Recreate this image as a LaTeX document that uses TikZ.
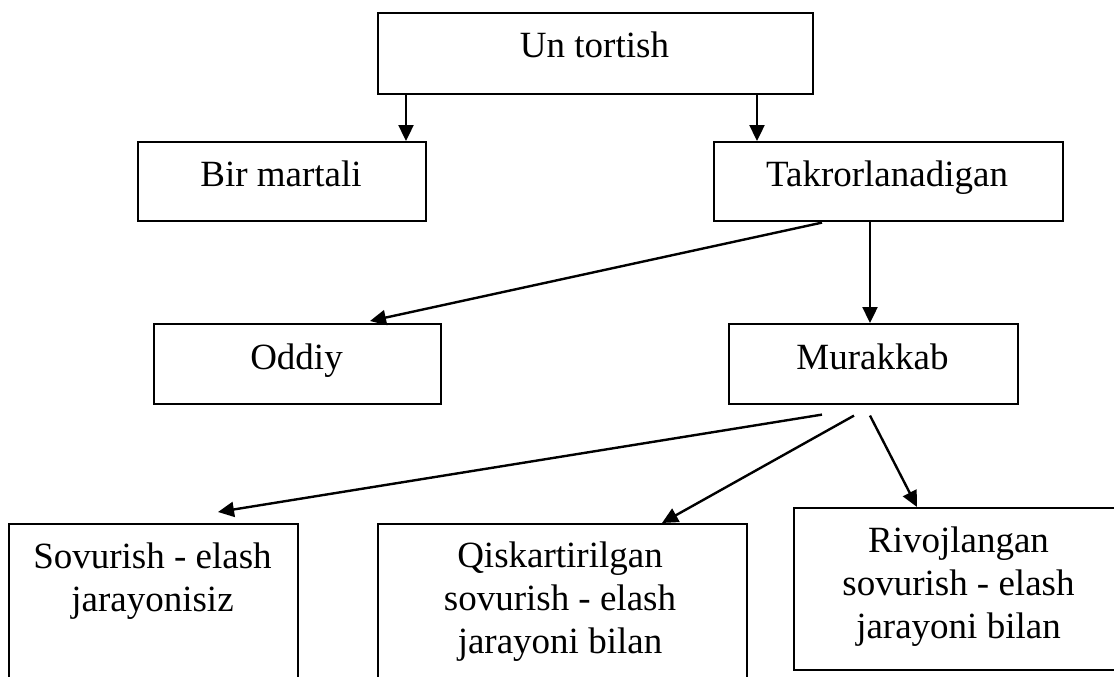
\documentclass[tikz,border=0pt]{standalone}
\usepackage{fontspec}
\setmainfont{Liberation Serif}
\usetikzlibrary{arrows.meta,calc}
\begin{document}
\begin{tikzpicture}[x=1pt,y=-1pt,
  box/.style={draw,line width=1.6pt,inner sep=0pt,anchor=north west},
  lbl/.style={anchor=base,inner sep=0pt,align=center,font=\fontsize{37}{43}\selectfont},
  arr/.style={line width=2.4pt,-{Triangle[length=16pt,width=15pt]}}]
\useasboundingbox (0,0) rectangle (1114,677);
\clip (0,0) rectangle (1114,677);
% boxes
\node[box,minimum width=435pt,minimum height=81pt] (unt) at (377,12) {};
\node[box,minimum width=288pt,minimum height=79pt] (bir) at (137,141) {};
\node[box,minimum width=349pt,minimum height=79pt] (takr) at (713,141) {};
\node[box,minimum width=287pt,minimum height=80pt] (odd) at (153,323) {};
\node[box,minimum width=289pt,minimum height=80pt] (mur) at (728,323) {};
\node[box,minimum width=289pt,minimum height=200pt] (sov) at (8,523) {};
\node[box,minimum width=369pt,minimum height=200pt] (qis) at (377,523) {};
\node[box,minimum width=400pt,minimum height=162pt] (riv) at (793,507) {};
% texts
\node[lbl] (tunt) at (594.5,58) {Un tortish};
\node[lbl] (tbir) at (281,186) {Bir martali};
\node[lbl] (ttakr) at (887,186) {Takrorlanadigan};
\node[lbl] (todd) at (296.5,369) {Oddiy};
\node[lbl] (tmur) at (872.5,369) {Murakkab};
\node[lbl] (tsov) at (152.5,611) {Sovurish - elash\\jarayonisiz};
\node[lbl] (tqis) at (560,653) {Qiskartirilgan\\sovurish - elash\\jarayoni bilan};
\node[lbl] (triv) at (958.5,638) {Rivojlangan\\sovurish - elash\\jarayoni bilan};
% connectors
\draw[arr] ($(unt.south west)+(29,0)$) -- ($(bir.north west)+(269,0)$);
\draw[arr] ($(unt.south west)+(380,0)$) -- ($(takr.north west)+(44,0)$);
\draw[arr] ($(takr.south west)+(109,1)$) -- ($(odd.north west)+(217,-2)$);
\draw[arr] ($(takr.south west)+(157,0)$) -- ($(mur.north west)+(142,0)$);
\draw[arr] ($(mur.south west)+(94,10)$) -- ($(sov.north west)+(210,-11)$);
\draw[arr] ($(mur.south west)+(126,11)$) -- ($(qis.north west)+(285,0)$);
\draw[arr] ($(mur.south west)+(142,11)$) -- ($(riv.north west)+(124,0)$);
\end{tikzpicture}
\end{document}
